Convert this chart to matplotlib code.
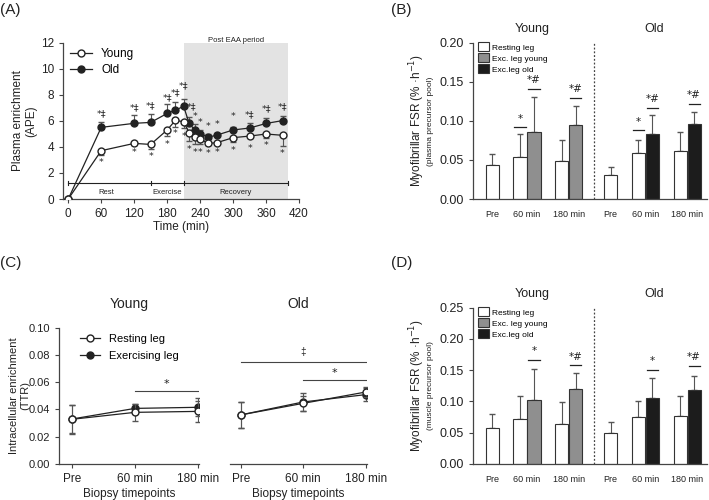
import numpy as np
import matplotlib
matplotlib.use("Agg")
import matplotlib.pyplot as plt
from matplotlib.lines import Line2D
from matplotlib.transforms import blended_transform_factory

plt.rcParams["font.family"] = ["Liberation Sans", "DejaVu Sans"]
plt.rcParams["axes.linewidth"] = 0.9
plt.rcParams["axes.edgecolor"] = "#444444"
plt.rcParams["xtick.color"] = "#444444"
plt.rcParams["ytick.color"] = "#444444"
plt.rcParams["xtick.labelcolor"] = "#222222"
plt.rcParams["ytick.labelcolor"] = "#222222"

# ---- panel A : plasma enrichment
time_a = [0, 60, 120, 150, 180, 195, 210, 220, 230, 240, 255, 270, 300, 330, 360, 390]
young_a = [0, 3.71, 4.27, 4.19, 5.30, 6.04, 5.93, 5.09, 4.79, 4.60, 4.27, 4.32, 4.71, 4.83, 4.99, 4.89]
young_a_err = [0, 0.35, 0.1, 0.35, 0.45, 0.5, 0.45, 0.6, 0.6, 0.4, 0.1, 0.1, 0.3, 0.15, 0.3, 0.8]
old_a = [0, 5.50, 5.81, 5.88, 6.57, 6.83, 7.11, 5.80, 5.32, 5.0, 4.75, 4.9, 5.3, 5.45, 5.8, 6.02]
old_a_err = [0, 0.45, 0.65, 0.65, 0.7, 0.6, 0.6, 0.5, 0.45, 0.3, 0.25, 0.2, 0.2, 0.4, 0.4, 0.35]
# significance marks and the heights at which they are printed
old_a_sig = ["", "*‡", "*‡", "*‡", "*‡", "*‡", "*‡", "*‡", "*", "*", "*", "*", "*", "*‡", "*‡", "*‡"]
old_a_sig_y = [0, 6.57, 7.03, 7.19, 7.78, 8.18, 8.70, 7.05, 6.32, 5.86, 5.6, 5.73, 6.32, 6.5, 6.93, 7.08]
young_a_sig = [""] + ["*"] * 15
young_a_sig_y = [0, 2.79, 3.55, 3.3, 4.22, 5.0, 4.8, 3.8, 3.6, 3.55, 3.5, 3.55, 3.7, 3.85, 4.1, 3.5]
phase_edges = [0, 150, 210, 400]
phase_names = ["Rest", "Exercise", "Recovery"]

# ---- panels B / D : myofibrillar FSR
timepoints = ["Pre", "60 min", "180 min"]
b_young_rest = [0.0435, 0.054, 0.048]
b_young_rest_err = [0.014, 0.0287, 0.027]
b_young_exc = [0.0861, 0.0947]
b_young_exc_err = [0.045, 0.0243]
b_old_rest = [0.0307, 0.0584, 0.0618]
b_old_rest_err = [0.0098, 0.0171, 0.0235]
b_old_exc = [0.0827, 0.096]
b_old_exc_err = [0.0253, 0.0157]
# (bar, line height, label)
b_sig = [("yr60", 0.092, "*"), ("ye60", 0.141, "*#"), ("ye180", 0.1297, "*#"),
         ("or60", 0.088, "*"), ("oe60", 0.117, "*#"), ("oe180", 0.1215, "*#")]

d_young_rest = [0.057, 0.0714, 0.0634]
d_young_rest_err = [0.0224, 0.0373, 0.0352]
d_young_exc = [0.1023, 0.1194]
d_young_exc_err = [0.0491, 0.0266]
d_old_rest = [0.049, 0.0757, 0.0768]
d_old_rest_err = [0.0187, 0.025, 0.0319]
d_old_exc = [0.106, 0.1183]
d_old_exc_err = [0.032, 0.023]
d_sig = [("ye60", 0.167, "*"), ("ye180", 0.158, "*#"),
         ("oe60", 0.151, "*"), ("oe180", 0.157, "*#")]

# ---- panel C : intracellular enrichment
c_young_rest = [0.0328, 0.0379, 0.0386]
c_young_rest_err = [0.0105, 0.0064, 0.0075]
c_young_exc = [0.033, 0.0408, 0.0416]
c_young_exc_err = [0.0105, 0.0035, 0.0065]
c_old_rest = [0.036, 0.0445, 0.0528]
c_old_rest_err = [0.0098, 0.0055, 0.004]
c_old_exc = [0.036, 0.0455, 0.0509]
c_old_exc_err = [0.0098, 0.0064, 0.0045]

DARK = "#222222"
ERR = "#555555"
SIGFONT = ["DejaVu Sans"]


def line_handles(labels):
    return [Line2D([], [], color=DARK, lw=0.9, marker="o", ms=5, mec=DARK, mfc=fc)
            for fc in ["white", DARK]], labels


fig = plt.figure(figsize=(7.09, 5.0), dpi=100)

# ================= (A)
ax = fig.add_axes([0.0893, 0.602, 0.3325, 0.3126])
ax.axvspan(210, 400, ymin=0, ymax=1, color="#e3e3e3", lw=0, zorder=0)
ax.text(305, 12.15, "Post EAA period", fontsize=5.5, ha="center", va="center", color=DARK)
ax.errorbar(time_a, old_a, yerr=[np.zeros(len(old_a)), old_a_err], color=DARK, lw=0.9,
            marker="o", ms=5, mfc=DARK, mec=DARK, capsize=2.2, elinewidth=0.8,
            ecolor=ERR, zorder=3)
ax.errorbar(time_a, young_a, yerr=[young_a_err, np.zeros(len(young_a))], color=DARK, lw=0.9,
            marker="o", ms=5, mfc="white", mec=DARK, capsize=2.2, elinewidth=0.8,
            ecolor=ERR, zorder=4)
for t, y, s in zip(time_a, old_a_sig_y, old_a_sig):
    if s:
        ax.text(t + (4 if t == 220 else 0), y, s, fontsize=6.8, ha="center", va="center",
                color=DARK, family=SIGFONT)
for t, y, s in zip(time_a, young_a_sig_y, young_a_sig):
    if s:
        ax.text(t, y, s, fontsize=6.8, ha="center", va="center", color=DARK, family=SIGFONT)
ax.plot([phase_edges[0], phase_edges[-1]], [1.25, 1.25], color=DARK, lw=0.8)
for e in phase_edges:
    ax.plot([e, e], [1.1, 1.4], color=DARK, lw=0.8)
for a, b, n in zip(phase_edges[:-1], phase_edges[1:], phase_names):
    ax.text((a + b) / 2 - (5 if n == "Rest" else 0), 0.5, n, fontsize=5.5, ha="center", va="center", color=DARK)
ax.set_xlim(-9, 420)
ax.set_ylim(0, 12)
ax.set_xticks(range(0, 421, 60))
ax.set_yticks(range(0, 13, 2))
ax.tick_params(labelsize=8.5, length=3, width=0.8)
ax.spines[["top", "right"]].set_visible(False)
ax.set_xlabel("Time (min)", fontsize=8.5, labelpad=1, color=DARK)
ax.set_ylabel("Plasma enrichment\n(APE)", fontsize=8.5, labelpad=3, color=DARK, linespacing=1.1)
h, l = line_handles(["Young", "Old"])
ax.legend(h, l, loc="upper left", bbox_to_anchor=(0.0, 1.01), frameon=False,
          fontsize=8.5, handlelength=1.8, labelspacing=0.35, borderaxespad=0.2)


# ================= (B) and (D)
def fsr_panel(rect, yr, yr_e, ye, ye_e, orr, or_e, oe, oe_e, sig, ymax, sub, toff):
    ax = fig.add_axes(rect)
    young_c = np.array([0, 2.5, 5.5])
    old_c = np.array([8.5, 11.0, 14.0])
    w = 0.95
    yr_x = young_c - np.array([0, 0.5, 0.5])
    or_x = old_c - np.array([0, 0.5, 0.5])
    ye_x = young_c[1:] + 0.5
    oe_x = old_c[1:] + 0.5
    kw = dict(width=w, edgecolor="#333333", linewidth=0.8, zorder=2)
    ekw = dict(fmt="none", ecolor=ERR, elinewidth=0.8, capsize=2.2, zorder=1)
    ax.bar(yr_x, yr, color="white", label="Resting leg", **kw)
    ax.bar(ye_x, ye, color="#8f8f8f", label="Exc. leg young", **kw)
    ax.bar(or_x, orr, color="white", **kw)
    ax.bar(oe_x, oe, color="#1c1c1c", label="Exc.leg old", **kw)
    for x, v, e in [(yr_x, yr, yr_e), (ye_x, ye, ye_e), (or_x, orr, or_e), (oe_x, oe, oe_e)]:
        ax.errorbar(x, v, yerr=[np.zeros(len(v)), e], **ekw)
    pos = {"yr60": yr_x[1], "ye60": ye_x[0], "ye180": ye_x[1],
           "or60": or_x[1], "oe60": oe_x[0], "oe180": oe_x[1]}
    for key, yl, s in sig:
        x = pos[key]
        ax.plot([x - 0.4, x + 0.4], [yl, yl], color=DARK, lw=0.9)
        ax.text(x, yl + toff, s, fontsize=7.5, ha="center", va="center", color=DARK, family=SIGFONT)
    ax.axvline(7.3, color="#444444", lw=0.9, ls=(0, (1.5, 1.5)))
    ax.set_xlim(-1.4, 15.4)
    ax.set_ylim(0, ymax)
    ax.set_yticks(np.arange(0, ymax + 0.001, 0.05))
    ax.set_yticklabels(["%.2f" % v for v in np.arange(0, ymax + 0.001, 0.05)])
    ax.set_xticks(list(young_c) + list(old_c))
    ax.set_xticklabels(timepoints * 2)
    ax.tick_params(axis="x", length=0, labelsize=6.5, pad=8)
    ax.tick_params(axis="y", labelsize=9, length=3, width=0.8)
    ax.spines[["top", "right"]].set_visible(False)
    tr = blended_transform_factory(ax.transData, ax.transAxes)
    ax.text(2.9, 1.09, "Young", transform=tr, fontsize=9, ha="center", va="center", color=DARK)
    ax.text(11.6, 1.09, "Old", transform=tr, fontsize=9, ha="center", va="center", color=DARK)
    ax.text(-0.238, 0.5, "Myofibrillar FSR (% ·h$^{-1}$)", transform=ax.transAxes, rotation=90,
            fontsize=8.5, ha="center", va="center", color=DARK)
    ax.text(-0.18, 0.5, sub, transform=ax.transAxes, rotation=90,
            fontsize=6, ha="center", va="center", color=DARK)
    ax.legend(loc="upper left", bbox_to_anchor=(0.005, 1.03), frameon=False, fontsize=6,
              handlelength=1.3, handleheight=1.3, handletextpad=0.4, labelspacing=0.2,
              borderaxespad=0.1)
    return ax


fsr_panel([0.6667, 0.602, 0.330, 0.3126], b_young_rest, b_young_rest_err, b_young_exc, b_young_exc_err,
          b_old_rest, b_old_rest_err, b_old_exc, b_old_exc_err, b_sig, 0.20, "(plasma precursor pool)", 0.011)
fsr_panel([0.6667, 0.072, 0.330, 0.3126], d_young_rest, d_young_rest_err, d_young_exc, d_young_exc_err,
          d_old_rest, d_old_rest_err, d_old_exc, d_old_exc_err, d_sig, 0.25, "(muscle precursor pool)", 0.0135)

# ================= (C)
xc = [0, 1, 2]
axl = fig.add_axes([0.0837, 0.072, 0.1975, 0.2726])
axr = fig.add_axes([0.3244, 0.072, 0.1932, 0.2726])
for a, rest, rest_e, exc, exc_e, title in [(axl, c_young_rest, c_young_rest_err, c_young_exc, c_young_exc_err, "Young"),
                                          (axr, c_old_rest, c_old_rest_err, c_old_exc, c_old_exc_err, "Old")]:
    a.errorbar(xc, exc, yerr=exc_e, color=DARK, lw=0.9, marker="o", ms=5, mfc=DARK, mec=DARK,
               capsize=2.2, elinewidth=0.8, ecolor=ERR, zorder=3)
    a.errorbar(xc, rest, yerr=rest_e, color=DARK, lw=0.9, marker="o", ms=5, mfc="white", mec=DARK,
               capsize=2.2, elinewidth=0.8, ecolor=ERR, zorder=4)
    a.set_ylim(0, 0.10)
    a.set_xticks(xc)
    a.set_xticklabels(timepoints)
    a.tick_params(labelsize=8.5, length=3, width=0.8)
    a.tick_params(axis="y", labelsize=8)
    a.spines[["top", "right"]].set_visible(False)
    a.set_xlabel("Biopsy timepoints", fontsize=8.5, labelpad=2, color=DARK)
    a.set_title(title, fontsize=10, pad=14, color=DARK)
axl.set_xlim(-0.2, 2.02)
axr.set_xlim(-0.17, 2.02)
axl.set_yticks(np.arange(0, 0.101, 0.02))
axl.set_yticklabels(["%.2f" % v for v in np.arange(0, 0.101, 0.02)])
axl.set_ylabel("Intracellular enrichment\n(TTR)", fontsize=8, color=DARK, linespacing=1.15)
axl.yaxis.set_label_coords(-0.21, 0.5)
axr.spines["left"].set_visible(False)
axr.set_yticks([])
h, l = line_handles(["Resting leg", "Exercising leg"])
axl.legend(h, l, loc="upper left", bbox_to_anchor=(0.1, 1.0), frameon=False, fontsize=8,
           handlelength=1.8, labelspacing=0.6, borderaxespad=0.2)
axl.plot([1, 2], [0.0535, 0.0535], color="#444444", lw=0.8)
axl.text(1.5, 0.0585, "*", fontsize=8, ha="center", va="center", color=DARK, family=SIGFONT)
axr.plot([0, 2], [0.075, 0.075], color="#444444", lw=0.8)
axr.text(1.0, 0.082, "‡", fontsize=7, ha="center", va="center", color=DARK)
axr.plot([1, 2], [0.0615, 0.0615], color="#444444", lw=0.8)
axr.text(1.5, 0.067, "*", fontsize=8, ha="center", va="center", color=DARK, family=SIGFONT)

# panel letters
for x, y, s in [(0.0, 0.98, "(A)"), (0.552, 0.98, "(B)"), (0.0, 0.474, "(C)"), (0.552, 0.474, "(D)")]:
    fig.text(x, y, s, fontsize=11, ha="left", va="center", color=DARK)

fig.savefig("out.png", dpi=100)
